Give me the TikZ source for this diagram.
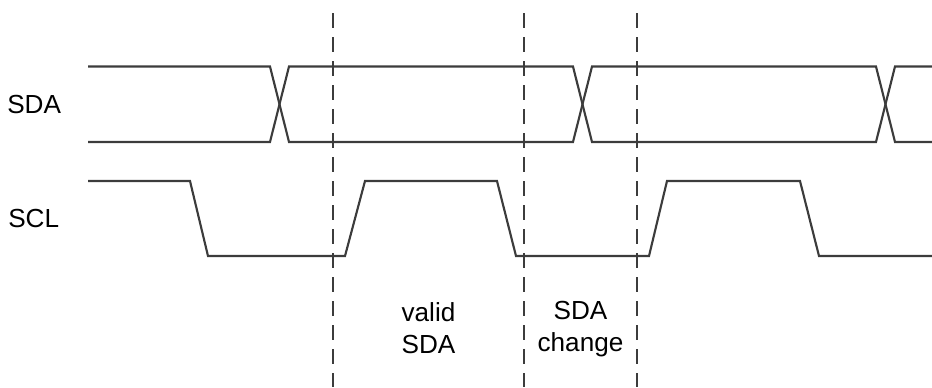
\documentclass[tikz,border=0pt]{standalone}
\usepackage{fontspec}
\setmainfont{Liberation Sans}
\definecolor{wavegray}{HTML}{3c3c3c}

\begin{document}
\begin{tikzpicture}[x=0.75pt, y=-0.75pt,
	wave/.style={draw=wavegray, line width=1.6pt, line join=miter},
	guide/.style={draw=wavegray, line width=1.6pt, dash pattern=on 11.6pt off 6.4pt},
	lbl/.style={font=\fontsize{19.6}{23.5}\selectfont, text=black, inner sep=0pt}]

\useasboundingbox (0,0) rectangle (932,387);

% signal names
\node[lbl, anchor=west] (sda) at (7,104) {SDA};
\node[lbl, anchor=west] (scl) at (8,218) {SCL};

% SDA bus
\draw[wave] (88,66.5) -- (270,66.5) -- (289,142) -- (573,142) -- (592,66.5)
		-- (876,66.5) -- (895,142) -- (932,142);
\draw[wave] (88,142) -- (270,142) -- (289,66.5) -- (573,66.5) -- (592,142)
		-- (876,142) -- (895,66.5) -- (932,66.5);

% SCL clock
\draw[wave] (88,181) -- (190,181) -- (208,256) -- (345,256) -- (365,181)
		-- (497,181) -- (516,256) -- (649,256) -- (667,181)
		-- (800,181) -- (819,256) -- (932,256);

% timing marks
\foreach \x in {333, 524, 637}
	\draw[guide] (\x,13) -- (\x,387);

% ranges
\node[lbl, align=center] (valid) at (428.5,328) {valid\\SDA};
\node[lbl, align=center] (change) at (580.5,329) {SDA\\change};

\end{tikzpicture}
\end{document}
